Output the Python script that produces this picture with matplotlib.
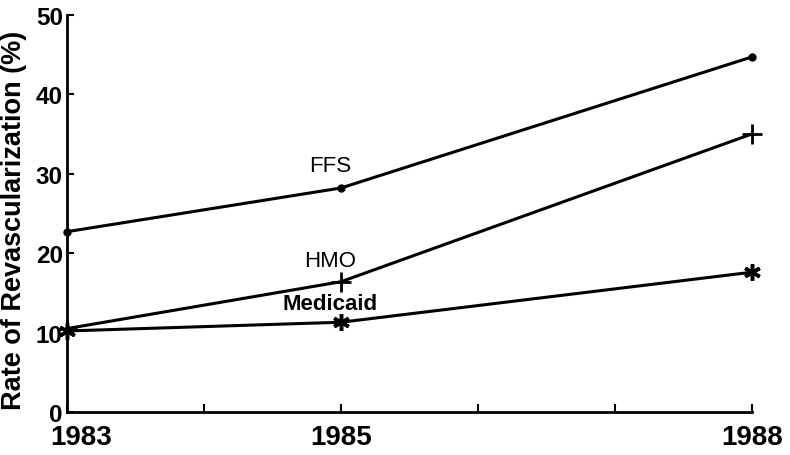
import matplotlib.pyplot as plt
from matplotlib.transforms import ScaledTranslation

years = [1983, 1985, 1988]
ffs = [22.7, 28.2, 44.7]
hmo = [10.5, 16.4, 35.0]
medicaid = [10.2, 11.3, 17.6]

x_ticks = [1983, 1984, 1985, 1986, 1987, 1988]
x_labels = ["1983", "", "1985", "", "", "1988"]
y_ticks = [0, 10, 20, 30, 40, 50]

fig = plt.figure(figsize=(7.9, 4.56), dpi=100)
ax = fig.add_axes([0.0848, 0.0943, 0.867, 0.871])

ax.plot(years, ffs, color="black", lw=2.2, marker="o", ms=5, clip_on=False)
ax.plot(years, hmo, color="black", lw=2.2, marker="+", ms=14, mew=2, clip_on=False)
ax.plot(years, medicaid, color="black", lw=2.2, marker=(6, 2, 0), ms=12, mew=2.5,
        clip_on=False)

ax.set_xlim(1983, 1988)
ax.set_ylim(0, 50)
ax.set_xticks(x_ticks)
ax.set_xticklabels(x_labels)
ax.set_yticks(y_ticks)

for s in ["top", "right"]:
    ax.spines[s].set_visible(False)
for s in ["left", "bottom"]:
    ax.spines[s].set_linewidth(2)

ax.tick_params(axis="x", direction="in", length=6, width=1.5, pad=9,
               labelsize=20)
ax.tick_params(axis="y", direction="in", length=5, width=1.5, pad=3,
               labelsize=17.5)
for lab in ax.get_xticklabels() + ax.get_yticklabels():
    lab.set_fontfamily("Liberation Sans")
    lab.set_fontweight("bold")

# the first year label sits to the right of its tick in the original
first = ax.get_xticklabels()[0]
first.set_transform(first.get_transform() + ScaledTranslation(0.14, 0, fig.dpi_scale_trans))

ax.set_ylabel("Rate of Revascularization (%)", fontfamily="Liberation Sans",
              fontweight="bold", fontsize=19.5)
ax.yaxis.set_label_coords(-0.058, 0.485)

txt = dict(fontfamily="Liberation Sans", fontsize=16, ha="center", va="center")
ax.text(1984.92, 31.0, "FFS", **txt)
ax.text(1984.92, 19.1, "HMO", **txt)
ax.text(1984.92, 13.6, "Medicaid", fontweight="bold", **txt)

fig.savefig("out.png", dpi=100)
